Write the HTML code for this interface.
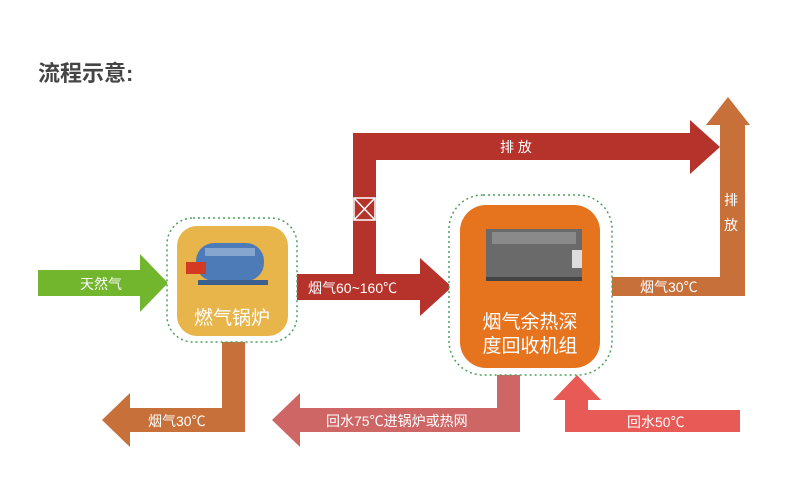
<!DOCTYPE html>
<html><head><meta charset="utf-8"><style>
html,body{margin:0;padding:0;background:#fff;}
svg{display:block;}
text{font-family:"Liberation Sans","Noto Sans CJK SC",sans-serif;}
</style></head><body>
<svg width="800" height="500" viewBox="0 0 800 500" xmlns="http://www.w3.org/2000/svg">
<text x="38" y="81" font-size="22" font-weight="bold" fill="#444">流程示意:</text>

<!-- green input -->
<polygon points="38,270 140,270 140,254 168,283 140,312 140,296 38,296" fill="#72b62e"/>
<text x="80" y="289" font-size="14" fill="#fff">天然气</text>

<!-- red flue -->
<polygon points="296,274 420,274 420,258 452,287 420,316 420,300 296,300" fill="#b5332a"/>
<rect x="353" y="133" width="23" height="145" fill="#b5332a"/>
<polygon points="353,133 690,133 690,120 720,147 690,174 690,160 353,160" fill="#b5332a"/>
<rect x="354" y="198" width="21" height="22" fill="none" stroke="#fff" stroke-width="1.5"/>
<line x1="354" y1="198" x2="375" y2="220" stroke="#fff" stroke-width="1.5"/>
<line x1="375" y1="198" x2="354" y2="220" stroke="#fff" stroke-width="1.5"/>
<text x="308" y="293" font-size="14" fill="#fff">烟气60~160℃</text>
<text x="500" y="152" font-size="14" fill="#fff">排 放</text>

<!-- exhaust 30 -->
<polygon points="612,277 720,277 720,125 706,125 728,97 750,125 745,125 745,296 612,296" fill="#c8703a"/>
<text x="640" y="292" font-size="14" fill="#fff">烟气30℃</text>
<text x="724" y="205" font-size="14" fill="#fff">排</text>
<text x="724" y="230" font-size="14" fill="#fff">放</text>

<!-- bottom-left flue -->
<polygon points="222,342 245,342 245,432 130,432 130,447 102,420 130,393 130,408 222,408" fill="#c8703a"/>
<text x="148" y="426" font-size="14" fill="#fff">烟气30℃</text>

<!-- return 75 -->
<polygon points="497,370 520,370 520,432 300,432 300,447 272,420 300,393 300,408 497,408" fill="#cf6666"/>
<text x="326" y="426" font-size="14" fill="#fff">回水75℃进锅炉或热网</text>

<!-- return 50 -->
<polygon points="740,410 740,432 565,432 565,400 553,400 577,375 601,400 588,400 588,410" fill="#e85a55"/>
<text x="627" y="427" font-size="14" fill="#fff">回水50℃</text>

<!-- boiler box -->
<rect x="167" y="218" width="130" height="124" rx="26" fill="#fff" stroke="#4aa05a" stroke-width="1.5" stroke-dasharray="2,3"/>
<rect x="177" y="226" width="111" height="110" rx="20" fill="#e8b54a"/>
<rect x="196" y="243" width="68" height="38" rx="18" fill="#4c7bb8"/>
<rect x="205" y="248" width="50" height="8" fill="#9fb9d8" opacity="0.7"/>
<rect x="186" y="262" width="20" height="12" fill="#d23a22"/>
<rect x="198" y="280" width="70" height="5" fill="#3b5f8e"/>
<text x="232" y="324" font-size="19" fill="#fff" text-anchor="middle">燃气锅炉</text>

<!-- recovery box -->
<rect x="449" y="195" width="163" height="180" rx="34" fill="#fff" stroke="#4aa05a" stroke-width="1.5" stroke-dasharray="2,3"/>
<rect x="460" y="205" width="140" height="163" rx="26" fill="#e6731e"/>
<rect x="486" y="229" width="96" height="48" fill="#6a6a6a"/>
<rect x="492" y="232" width="84" height="12" fill="#8a8a8a"/>
<rect x="572" y="250" width="10" height="18" fill="#ddd"/>
<rect x="486" y="277" width="96" height="4" fill="#444"/>
<text x="530" y="328" font-size="19" fill="#fff" text-anchor="middle">烟气余热深</text>
<text x="530" y="352" font-size="19" fill="#fff" text-anchor="middle">度回收机组</text>
</svg>
</body></html>
